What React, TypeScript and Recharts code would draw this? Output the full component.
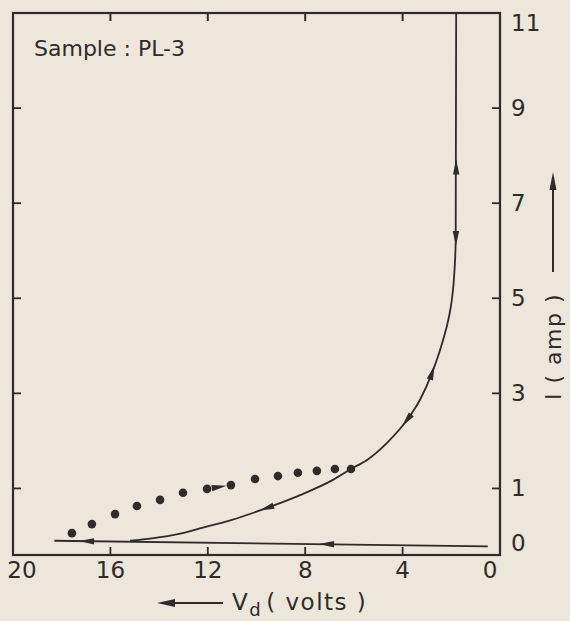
import React from "react";
import { ComposedChart, Line, Scatter, XAxis, YAxis } from "recharts";

// axis ticks
const xTicks = [20, 16, 12, 8, 4, 0];
const yTicks = [0, 1, 3, 5, 7, 9, 11];

// solid loop: from the knee on the baseline up the steep branch to the top
const curveV = [15.19, 14.29, 13.14, 12.32, 11.01, 9.57, 8.21, 6.86, 6.12, 5.46, 4.64, 3.82, 3.29, 2.79, 2.35, 2.1, 1.97, 1.88, 1.82, 1.8];
const curveI = [-0.1, -0.05, 0.05, 0.16, 0.34, 0.59, 0.86, 1.18, 1.41, 1.6, 1.96, 2.44, 2.86, 3.43, 4.1, 4.6, 5.0, 5.5, 6.2, 11];

// nearly flat trace along I = 0
const baseV = [18.3, 0.5];
const baseI = [-0.1, -0.22];

// dotted branch
const dotV = [17.58, 16.76, 15.81, 14.91, 13.96, 13.02, 12.03, 11.05, 10.06, 9.12, 8.3, 7.52, 6.78, 6.12];
const dotI = [0.06, 0.25, 0.46, 0.63, 0.76, 0.91, 0.99, 1.07, 1.2, 1.26, 1.33, 1.37, 1.41, 1.41];

// arrow heads on the traces (dir = screen degrees, 0 points right)
const arrowV = [1.8, 1.81, 2.79, 3.82, 9.57, 7.1, 16.96, 11.55];
const arrowI = [7.75, 6.27, 3.43, 2.44, 0.59, -0.17, -0.11, 1.03];
const arrowDir = [-90, 90, -72, 128, 161, 181, 181, -9];

const X_DOMAIN: [number, number] = [0, 20];
const Y_DOMAIN: [number, number] = [-0.4, 11];

// plot box, set by the chart margins / axis sizes below
const W = 570;
const H = 621;
const TOP = 13;
const LEFT_W = 13;
const RIGHT_W = 70;
const BOTTOM_H = 66;
const PLOT_L = LEFT_W;
const PLOT_R = W - RIGHT_W;
const PLOT_B = H - BOTTOM_H;

const INK = "#2e2c2a";
const PAPER = "#ece6db";
const FONT = "'DejaVu Sans', sans-serif";

const zip = (vs: number[], is: number[]) => vs.map((v, k) => ({ v, i: is[k] }));
const curveData = zip(curveV, curveI);
const baseData = zip(baseV, baseI);
const dotData = zip(dotV, dotI);
const arrowData = arrowV.map((v, k) => ({ v, i: arrowI[k], dir: arrowDir[k] }));
const innerXTicks = xTicks.filter((v) => v !== X_DOMAIN[0] && v !== X_DOMAIN[1]);
// reversed x axis: 0 at the right edge
const xPix = (v: number) => PLOT_R - ((v - X_DOMAIN[0]) / (X_DOMAIN[1] - X_DOMAIN[0])) * (PLOT_R - PLOT_L);

function BottomTick(props: any) {
  const { x, y, payload } = props;
  const v = payload.value;
  const edge = v === 20 || v === 0;
  const dx = v === 20 ? 9 : v === 0 ? -10 : 0;
  return (
    <g>
      {!edge && <line x1={x} x2={x} y1={y} y2={y - 8} stroke={INK} strokeWidth={1.8} />}
      <text x={x + dx} y={y + 23} textAnchor="middle" fontSize={23} fill={INK} fontFamily={FONT}>
        {v}
      </text>
    </g>
  );
}

function RightTick(props: any) {
  const { x, y, payload } = props;
  const v = payload.value;
  const edge = v === 11 || v === 0;
  const dy = v === 11 ? 10 : v === 0 ? 7 : 0;
  return (
    <g>
      {!edge && <line x1={x - 8} x2={x} y1={y} y2={y} stroke={INK} strokeWidth={1.8} />}
      <text x={x + 11} y={y + dy + 8} fontSize={23} fill={INK} fontFamily={FONT}>
        {v}
      </text>
    </g>
  );
}

function LeftTick(props: any) {
  const { x, y, payload } = props;
  const v = payload.value;
  if (v === 11 || v === 0) return <g />;
  return <line x1={x} x2={x + 8} y1={y} y2={y} stroke={INK} strokeWidth={1.8} />;
}

const Dot = (p: any) => <circle cx={p.cx} cy={p.cy} r={4.3} fill={INK} />;

const Arrow = (p: any) => (
  <polygon
    points="8,0 -7,-3.2 -7,3.2"
    fill={INK}
    transform={`translate(${p.cx},${p.cy}) rotate(${p.payload.dir})`}
  />
);

const axisStroke = { stroke: INK, strokeWidth: 2 };

export default function App() {
  return (
    <div style={{ position: "absolute", left: 0, top: 0, width: W, height: H, background: PAPER }}>
      <ComposedChart width={W} height={H} margin={{ top: TOP, right: 0, bottom: 0, left: 0 }}>
        <XAxis
          dataKey="v"
          type="number"
          domain={X_DOMAIN}
          ticks={xTicks}
          reversed
          allowDataOverflow
          height={BOTTOM_H}
          tickSize={0}
          tickMargin={0}
          tick={<BottomTick />}
          axisLine={axisStroke}
          interval={0}
        />
        <YAxis
          orientation="right"
          dataKey="i"
          type="number"
          domain={Y_DOMAIN}
          ticks={yTicks}
          allowDataOverflow
          width={RIGHT_W}
          tickSize={0}
          tickMargin={0}
          tick={<RightTick />}
          axisLine={axisStroke}
          interval={0}
        />
        <YAxis
          yAxisId="left"
          orientation="left"
          dataKey="i"
          type="number"
          domain={Y_DOMAIN}
          ticks={yTicks}
          allowDataOverflow
          width={LEFT_W}
          tickSize={0}
          tickMargin={0}
          tick={<LeftTick />}
          axisLine={false}
          interval={0}
        />
        <Line data={baseData} dataKey="i" type="linear" stroke={INK} strokeWidth={1.8} dot={false} isAnimationActive={false} />
        <Line data={curveData} dataKey="i" type="monotoneX" stroke={INK} strokeWidth={1.8} dot={false} isAnimationActive={false} />
        <Scatter data={dotData} dataKey="i" shape={Dot} isAnimationActive={false} />
        <Scatter data={arrowData} dataKey="i" shape={Arrow} isAnimationActive={false} />
      </ComposedChart>
      <svg width={W} height={H} style={{ position: "absolute", left: 0, top: 0, pointerEvents: "none" }}>
        {/* full frame of the plot, with inward ticks along the top */}
        <rect
          x={PLOT_L}
          y={TOP}
          width={PLOT_R - PLOT_L}
          height={PLOT_B - TOP}
          fill="none"
          stroke={INK}
          strokeWidth={2.2}
        />
        {innerXTicks.map((v) => (
          <line key={v} x1={xPix(v)} x2={xPix(v)} y1={TOP} y2={TOP + 8} stroke={INK} strokeWidth={2} />
        ))}
        <text x={34} y={56} fontSize={22} fill={INK} fontFamily={FONT}>
          Sample : PL-3
        </text>
        <line x1={172} x2={223} y1={603} y2={603} stroke={INK} strokeWidth={2} />
        <polygon points="157,603 175,599 175,607" fill={INK} />
        <text x={232} y={610} fontSize={23} fill={INK} fontFamily={FONT} letterSpacing={1.5}>
          V
          <tspan fontSize={18} dy={6}>d</tspan>
          <tspan dy={-6} dx={4}>( volts )</tspan>
        </text>
        <text x={561} y={400} fontSize={22} fill={INK} fontFamily={FONT} letterSpacing={1.5} transform="rotate(-90 561 400)">
          I ( amp )
        </text>
        <line x1={553} x2={553} y1={272} y2={186} stroke={INK} strokeWidth={2} />
        <polygon points="553,172 549.5,190 556.5,190" fill={INK} />
      </svg>
    </div>
  );
}
